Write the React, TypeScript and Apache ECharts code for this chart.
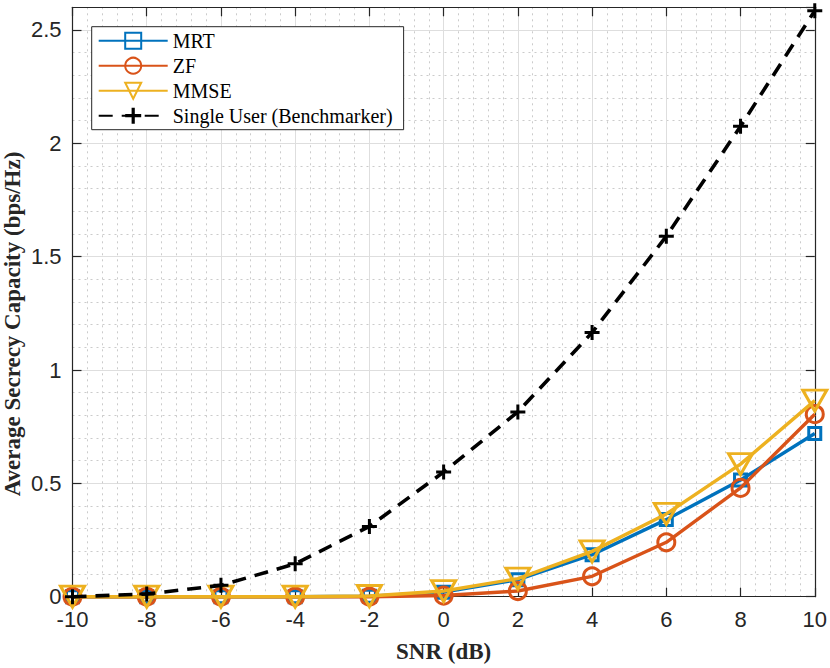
import React, { useEffect, useRef } from "react";
import * as echarts from "echarts";

const snr = [-10, -8, -6, -4, -2, 0, 2, 4, 6, 8, 10];
const mrt = [0, 0, 0, 0, 0.002, 0.02, 0.075, 0.185, 0.34, 0.515, 0.72];
const zf = [0, 0, 0, 0, 0, 0.005, 0.025, 0.09, 0.24, 0.48, 0.805];
const mmse = [0, 0, 0, 0, 0.003, 0.025, 0.08, 0.2, 0.365, 0.585, 0.865];
const singleUser = [0, 0.012, 0.05, 0.145, 0.31, 0.55, 0.815, 1.165, 1.59, 2.075, 2.585];

const seriesNames = ["MRT", "ZF", "MMSE", "Single User (Benchmarker)"];
const xTickInterval = 2;
const yTickInterval = 0.5;
const yTitle = "Average Secrecy Capacity (bps/Hz)";
const xTitle = "SNR (dB)";

const AX = "#262626";
const SERIF = "'Liberation Serif', 'Times New Roman', serif";
const SANS = "'Liberation Sans', Arial, Helvetica, sans-serif";
const PLUS = "path://M4,0H6V4H10V6H6V10H4V6H0V4H4Z";

const pairs = (ys: number[]) => snr.map((x, i) => [x, ys[i]]);

export default function App() {
  const ref = useRef<HTMLDivElement>(null);
  useEffect(() => {
    if (!ref.current) return;
    const chart = echarts.init(ref.current, null, { renderer: "svg" });
    const minorC = "#cbcbcb";
    const option: any = {
      animation: false,
      backgroundColor: "#fff",
      grid: { left: 72.5, top: 7.3, right: 13.3, bottom: 71.3, containLabel: false },
      graphic: [
        {
          type: "text",
          x: 12,
          y: 324,
          rotation: Math.PI / 2,
          style: {
            text: yTitle,
            fontFamily: SERIF,
            fontWeight: "bold",
            fontSize: 23,
            fill: AX,
            align: "center",
            verticalAlign: "middle",
          },
        },
      ],
      legend: {
        orient: "vertical",
        left: 91.7,
        top: 26.7,
        padding: [4, 11, 4, 6],
        itemGap: 5,
        itemWidth: 69,
        itemHeight: 20,
        borderColor: AX,
        borderWidth: 1,
        backgroundColor: "#fff",
        textStyle: { fontFamily: SERIF, fontSize: 20, color: "#000" },
        data: seriesNames,
      },
      xAxis: [
        {
          type: "value",
          min: -10,
          max: 10,
          interval: xTickInterval,
          position: "bottom",
          name: xTitle,
          nameLocation: "middle",
          nameGap: 43,
          nameTextStyle: { fontFamily: SERIF, fontWeight: "bold", fontSize: 23, color: AX },
          axisLine: { show: true, onZero: false, lineStyle: { color: AX, width: 1.2 } },
          axisTick: { show: true, inside: true, length: 9, lineStyle: { color: AX, width: 1.2 } },
          axisLabel: { fontFamily: SANS, fontSize: 22, color: AX, margin: 12 },
          splitLine: { show: true, lineStyle: { color: "#dedede", width: 1 } },
          minorTick: { show: false, splitNumber: 5 },
          minorSplitLine: { show: true, lineStyle: { color: minorC, width: 1, type: [2, 4] } },
        },
        {
          type: "value",
          min: -10,
          max: 10,
          interval: xTickInterval,
          position: "top",
          axisLine: { show: true, onZero: false, lineStyle: { color: AX, width: 1.2 } },
          axisTick: { show: true, inside: true, length: 9, lineStyle: { color: AX, width: 1.2 } },
          axisLabel: { show: false },
          splitLine: { show: false },
        },
      ],
      yAxis: [
        {
          type: "value",
          min: 0,
          max: 2.6,
          interval: yTickInterval,
          position: "left",
          axisLine: { show: true, onZero: false, lineStyle: { color: AX, width: 1.2 } },
          axisTick: { show: true, inside: true, length: 9, lineStyle: { color: AX, width: 1.2 } },
          axisLabel: { fontFamily: SANS, fontSize: 22, color: AX, margin: 11, showMaxLabel: false },
          splitLine: { show: true, lineStyle: { color: "#dedede", width: 1 } },
        },
        {
          type: "value",
          min: 0,
          max: 2.6,
          interval: yTickInterval,
          position: "right",
          axisLine: { show: true, onZero: false, lineStyle: { color: AX, width: 1.2 } },
          axisTick: { show: true, inside: true, length: 9, lineStyle: { color: AX, width: 1.2 } },
          axisLabel: { show: false },
          splitLine: { show: false },
        },
        {
          type: "value",
          min: 0,
          max: 2.6,
          interval: 0.1,
          position: "left",
          axisLine: { show: false },
          axisTick: { show: false },
          axisLabel: { show: false },
          splitLine: {
            show: true,
            lineStyle: {
              color: ["rgba(0,0,0,0)", minorC, minorC, minorC, minorC],
              width: 1,
              type: [2, 4],
            },
          },
        },
      ],
      series: [
        {
          name: seriesNames[0],
          type: "line",
          data: pairs(mrt),
          clip: false,
          symbol: "rect",
          symbolSize: 12,
          lineStyle: { color: "#0072BD", width: 3.4 },
          itemStyle: { color: "rgba(255,255,255,0)", borderColor: "#0072BD", borderWidth: 3 },
          z: 2,
        },
        {
          name: seriesNames[1],
          type: "line",
          data: pairs(zf),
          clip: false,
          symbol: "circle",
          symbolSize: 17,
          lineStyle: { color: "#D95319", width: 3.4 },
          itemStyle: { color: "rgba(255,255,255,0)", borderColor: "#D95319", borderWidth: 3 },
          z: 3,
        },
        {
          name: seriesNames[2],
          type: "line",
          data: pairs(mmse),
          clip: false,
          symbol: "triangle",
          symbolSize: [24, 21],
          symbolRotate: 180,
          lineStyle: { color: "#EDB120", width: 3.4 },
          itemStyle: { color: "rgba(255,255,255,0)", borderColor: "#EDB120", borderWidth: 3 },
          z: 4,
        },
        {
          name: seriesNames[3],
          type: "line",
          data: pairs(singleUser),
          clip: false,
          symbol: PLUS,
          symbolSize: 15,
          lineStyle: { color: "#000", width: 3.6, type: [14, 9] },
          itemStyle: { color: "#000", borderWidth: 0 },
          z: 5,
        },
      ],
    };
    chart.setOption(option);
    return () => chart.dispose();
  }, []);
  return (
    <div
      ref={ref}
      style={{ position: "fixed", left: 0, top: 0, width: 830, height: 668, background: "#fff" }}
    />
  );
}
